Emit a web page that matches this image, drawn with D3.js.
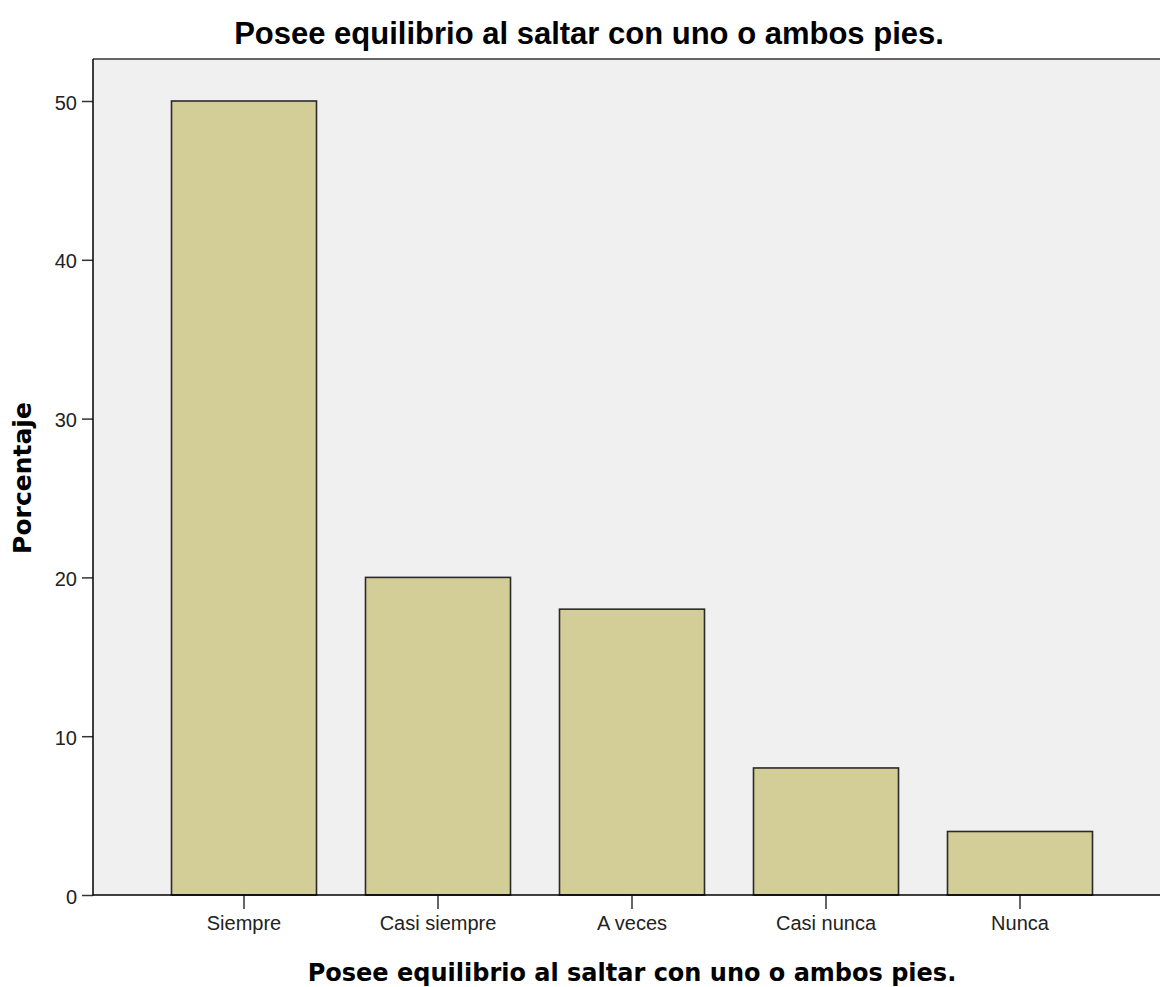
<!DOCTYPE html>
<html>
<head>
<meta charset="utf-8">
<script src="https://cdn.jsdelivr.net/npm/d3@7"></script>
<style>
  body { margin: 0; background: #fff; }
  svg { display: block; }
</style>
</head>
<body>
<svg width="1160" height="987"></svg>
<script>
var categories = ["Siempre", "Casi siempre", "A veces", "Casi nunca", "Nunca"];
var percentages = [50, 20, 18, 8, 4];
var yTicks = [0, 10, 20, 30, 40, 50];
var chartTitle = "Posee equilibrio al saltar con uno o ambos pies.";
var xTitle = "Posee equilibrio al saltar con uno o ambos pies.";
var yTitle = "Porcentaje";

var svg = d3.select("svg"),
    width = +svg.attr("width"),
    height = +svg.attr("height");

var plotLeft = 93, plotRight = 1160, plotBottom = 895;

var y = d3.scaleLinear()
    .domain([0, 50])
    .range([plotBottom, 101]);
var plotTop = y(52.65);

var x = d3.scaleBand()
    .domain(categories)
    .range([147, 1117])
    .paddingInner(0.2526)
    .paddingOuter(0.1263);

// plot background
svg.append("rect")
    .attr("x", plotLeft)
    .attr("y", plotTop)
    .attr("width", plotRight - plotLeft)
    .attr("height", plotBottom - plotTop)
    .attr("fill", "#f0f0f0");

svg.append("line")
    .attr("x1", plotLeft).attr("x2", plotRight)
    .attr("y1", plotTop).attr("y2", plotTop)
    .attr("stroke", "#666")
    .attr("stroke-width", 2);

// bars
svg.append("g")
    .selectAll("rect")
    .data(percentages)
    .enter().append("rect")
      .attr("x", function(d, i) { return x(categories[i]); })
      .attr("y", function(d) { return y(d); })
      .attr("width", x.bandwidth())
      .attr("height", function(d) { return plotBottom - y(d); })
      .attr("fill", "#d3ce97")
      .attr("stroke", "#2a2a2a")
      .attr("stroke-width", 1.6);

// y axis
var yAxis = svg.append("g")
    .attr("transform", "translate(" + plotLeft + ",0)")
    .call(d3.axisLeft(y).tickValues(yTicks).tickSize(11).tickPadding(5).tickFormat(d3.format("d")));
yAxis.select(".domain").remove();
yAxis.append("line")
    .attr("x1", 0).attr("x2", 0)
    .attr("y1", plotTop).attr("y2", plotBottom + 0.5)
    .attr("stroke", "#000").attr("stroke-width", 1.5);
yAxis.selectAll(".tick line").attr("stroke", "#333").attr("stroke-width", 1.5);
yAxis.selectAll(".tick text")
    .attr("dy", "0.4em")
    .attr("font-family", "Liberation Sans, Arial, sans-serif")
    .attr("font-size", 20)
    .attr("fill", "#222");

// x axis
var xAxis = svg.append("g")
    .attr("transform", "translate(0," + plotBottom + ")")
    .call(d3.axisBottom(x).tickSize(14).tickPadding(7));
xAxis.select(".domain").remove();
xAxis.append("line")
    .attr("x1", plotLeft).attr("x2", plotRight)
    .attr("y1", 0).attr("y2", 0)
    .attr("stroke", "#000").attr("stroke-width", 1.5);
xAxis.selectAll(".tick line").attr("stroke", "#333").attr("stroke-width", 1.5);
xAxis.selectAll(".tick text")
    .attr("font-family", "Liberation Sans, Arial, sans-serif")
    .attr("font-size", 20)
    .attr("fill", "#222");

// titles
svg.append("text")
    .attr("x", 589)
    .attr("y", 44)
    .attr("text-anchor", "middle")
    .attr("font-family", "Liberation Sans, Arial, sans-serif")
    .attr("font-weight", "bold")
    .attr("font-size", 31)
    .attr("fill", "#000")
    .text(chartTitle);

svg.append("text")
    .attr("x", 632)
    .attr("y", 981)
    .attr("text-anchor", "middle")
    .attr("font-family", "DejaVu Sans, sans-serif")
    .attr("font-weight", "bold")
    .attr("font-size", 24)
    .attr("fill", "#000")
    .text(xTitle);

svg.append("text")
    .attr("transform", "translate(31,478) rotate(-90)")
    .attr("text-anchor", "middle")
    .attr("font-family", "DejaVu Sans, sans-serif")
    .attr("font-weight", "bold")
    .attr("font-size", 25)
    .attr("fill", "#000")
    .text(yTitle);
</script>
</body>
</html>
